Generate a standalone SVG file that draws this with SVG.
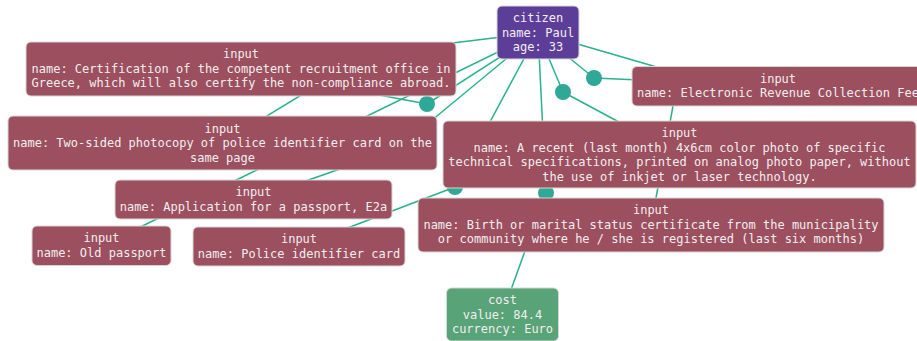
<svg xmlns="http://www.w3.org/2000/svg" width="917" height="341" viewBox="0 0 917 341">
<style>
.e{stroke:#27b38a;stroke-width:1.5;fill:none}
.j{fill:#30a898}
.n rect{stroke:#d6d6d6;stroke-width:1}
.in rect{fill:#9c4f5e}
.n text{font-family:'DejaVu Sans Mono','Liberation Mono',monospace;font-size:12px;fill:#f3eef0;text-anchor:middle}
</style>
<rect width="917" height="341" fill="#ffffff"/>
<g id="edges">
<line class="e" x1="538" y1="32.5" x2="370" y2="53"/>
<line class="e" x1="370" y1="53" x2="222.5" y2="143"/>
<line class="e" x1="538" y1="32.5" x2="101.5" y2="246"/>
<line class="e" x1="538" y1="32.5" x2="427" y2="104"/>
<line class="e" x1="427" y1="104" x2="241" y2="69"/>
<line class="e" x1="538" y1="32.5" x2="397" y2="149"/>
<line class="e" x1="397" y1="149" x2="253" y2="199.5"/>
<line class="e" x1="538" y1="32.5" x2="455" y2="187"/>
<line class="e" x1="455" y1="187" x2="299" y2="246.5"/>
<line class="e" x1="538" y1="32.5" x2="546" y2="193"/>
<line class="e" x1="546" y1="193" x2="502" y2="314.5"/>
<line class="e" x1="538" y1="32.5" x2="563" y2="92"/>
<line class="e" x1="563" y1="92" x2="679.5" y2="154.5"/>
<line class="e" x1="538" y1="32.5" x2="594" y2="78"/>
<line class="e" x1="594" y1="78" x2="778" y2="86"/>
<line class="e" x1="538" y1="32.5" x2="679" y2="73.5"/>
<line class="e" x1="679" y1="73.5" x2="651" y2="225"/>
</g>
<g id="junctions">
<circle id="j1" class="j" cx="427" cy="104" r="8"/>
<circle id="j2" class="j" cx="594" cy="78" r="8"/>
<circle id="j3" class="j" cx="563" cy="92" r="8"/>
<circle id="j4" class="j" cx="455" cy="187" r="8"/>
<circle id="j5" class="j" cx="546" cy="193" r="8"/>
</g>
<g id="citizen" class="n"><rect x="497" y="6" width="82" height="53" rx="5" fill="#5c3e98"/>
<text x="538" y="22">citizen</text><text x="538" y="36.5">name: Paul</text><text x="538" y="51">age: 33</text></g>
<g id="input-certification" class="n in"><rect x="26" y="42" width="430" height="54" rx="5"/>
<text x="241" y="58">input</text><text x="241" y="72.5">name: Certification of the competent recruitment office in</text><text x="241" y="87">Greece, which will also certify the non-compliance abroad.</text></g>
<g id="input-electronic-fee" class="n in"><rect x="632" y="66.5" width="292" height="39.5" rx="5"/>
<text x="778" y="82.5">input</text><text x="778" y="97">name: Electronic Revenue Collection Fee</text></g>
<g id="input-photocopy" class="n in"><rect x="8" y="116" width="429" height="54" rx="5"/>
<text x="222.5" y="132.5">input</text><text x="222.5" y="147">name: Two-sided photocopy of police identifier card on the</text><text x="222.5" y="161.5">same page</text></g>
<g id="input-photo" class="n in"><rect x="443" y="121" width="473" height="67" rx="5"/>
<text x="679.5" y="137">input</text><text x="679.5" y="151.5">name: A recent (last month) 4x6cm color photo of specific</text><text x="679.5" y="166">technical specifications, printed on analog photo paper, without</text><text x="679.5" y="180.5">the use of inkjet or laser technology.</text></g>
<g id="input-application" class="n in"><rect x="115" y="180" width="277" height="39" rx="5"/>
<text x="253.5" y="196">input</text><text x="253.5" y="210.5">name: Application for a passport, E2a</text></g>
<g id="input-old-passport" class="n in"><rect x="32" y="226" width="139" height="39.5" rx="5"/>
<text x="101.5" y="242">input</text><text x="101.5" y="256.5">name: Old passport</text></g>
<g id="input-police-card" class="n in"><rect x="193" y="227" width="212" height="39" rx="5"/>
<text x="299" y="243">input</text><text x="299" y="257.5">name: Police identifier card</text></g>
<g id="input-birth" class="n in"><rect x="418" y="198" width="466" height="54" rx="5"/>
<text x="651" y="214">input</text><text x="651" y="228.5">name: Birth or marital status certificate from the municipality</text><text x="651" y="243">or community where he / she is registered (last six months)</text></g>
<g id="cost" class="n"><rect x="446.5" y="288" width="112" height="53" rx="5" fill="#58a377"/>
<text x="502.5" y="304">cost</text><text x="502.5" y="318.5">value: 84.4</text><text x="502.5" y="333">currency: Euro</text></g>
</svg>
